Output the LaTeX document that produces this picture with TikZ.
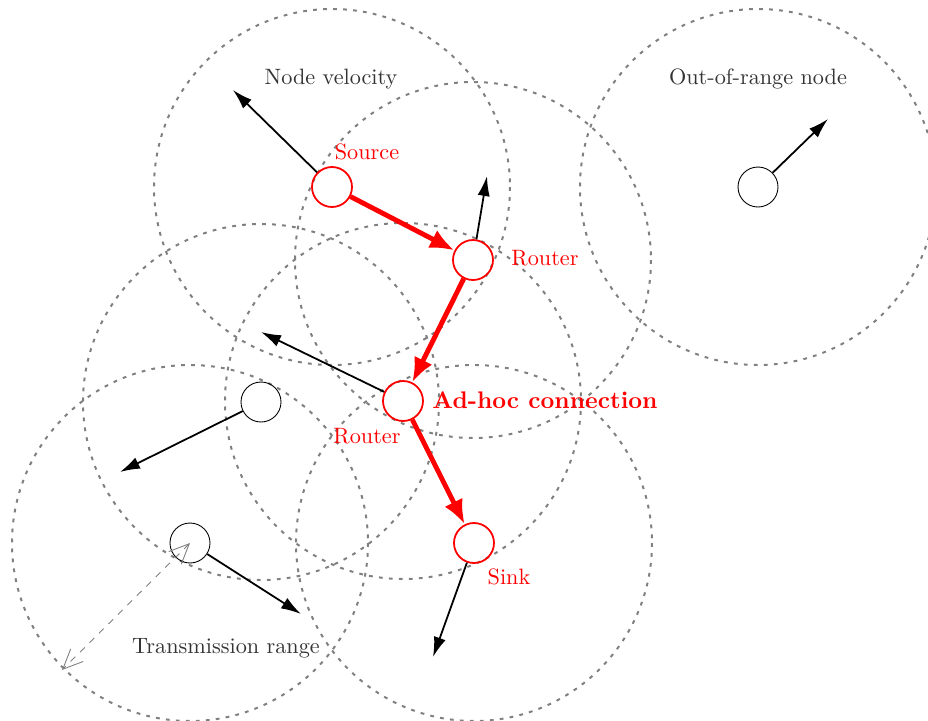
\documentclass[tikz,border=0pt]{standalone}
\usetikzlibrary{arrows.meta}
\begin{document}
\begin{tikzpicture}[x=0.45pt,y=-0.45pt,
  rangecircle/.style={draw=black!50,line width=0.9pt,dash pattern=on 1.7pt off 2.8pt},
  plain/.style={circle,draw=black,thin,minimum size=18pt,inner sep=0pt},
  active/.style={circle,draw=red,thick,minimum size=18pt,inner sep=0pt},
  vel/.style={thick,-{Latex[length=9pt,width=5.5pt]}},
  hop/.style={red,line width=2.2pt,-{Latex[length=11pt,width=9pt]}},
  redlbl/.style={text=red},
  graylbl/.style={text=black!80},
  rangearrow/.style={black!50,dashed,{Straight Barb[length=9pt,width=8pt]}-{Straight Barb[length=9pt,width=8pt]}}
]
\useasboundingbox (0,0) rectangle (928,720);
% transmission ranges
\foreach \p in {(332,187),(473,260),(403,401),(474,543),(758,187),(261,402),(190,543)}
  \draw[rangecircle] \p circle[radius=178];
% nodes
\node[active] (src) at (332,187) {};
\node[active] (r1) at (473,260) {};
\node[active] (r2) at (403,401) {};
\node[active] (sink) at (474,543) {};
\node[plain] (oor) at (758,187) {};
\node[plain] (na) at (261,402) {};
\node[plain] (nb) at (190,543) {};
% velocity end points
\coordinate (vsrc) at (233,90);
\coordinate (vr1) at (487,176);
\coordinate (vr2) at (261,332);
\coordinate (vsink) at (433,657);
\coordinate (voor) at (828,119);
\coordinate (vna) at (120,472);
\coordinate (vnb) at (301,614);
\coordinate (rng) at (62,670);
\draw[vel] (src) -- (vsrc);
\draw[vel] (r1) -- (vr1);
\draw[vel] (r2) -- (vr2);
\draw[vel] (sink) -- (vsink);
\draw[vel] (oor) -- (voor);
\draw[vel] (na) -- (vna);
\draw[vel] (nb) -- (vnb);
% hops
\draw[hop] (src) -- (r1);
\draw[hop] (r1) -- (r2);
\draw[hop] (r2) -- (sink);
% transmission range arrow
\draw[rangearrow] (nb.center) -- (rng);
% labels
\node[redlbl] (lsrc) at (367,152) {Source};
\node[redlbl] (lr1) at (545,258) {Router};
\node[redlbl] (lr2) at (367,436) {Router};
\node[redlbl,font=\fontsize{10.8}{13}\selectfont\bfseries] (ladhoc) at (545,400) {Ad-hoc connection};
\node[redlbl] (lsink) at (509,577) {Sink};
\node[graylbl] (lvel) at (331,79) {Node velocity};
\node[graylbl] (loor) at (758,79) {Out-of-range node};
\node[graylbl] (ltr) at (226,648) {Transmission range};
\end{tikzpicture}
\end{document}
